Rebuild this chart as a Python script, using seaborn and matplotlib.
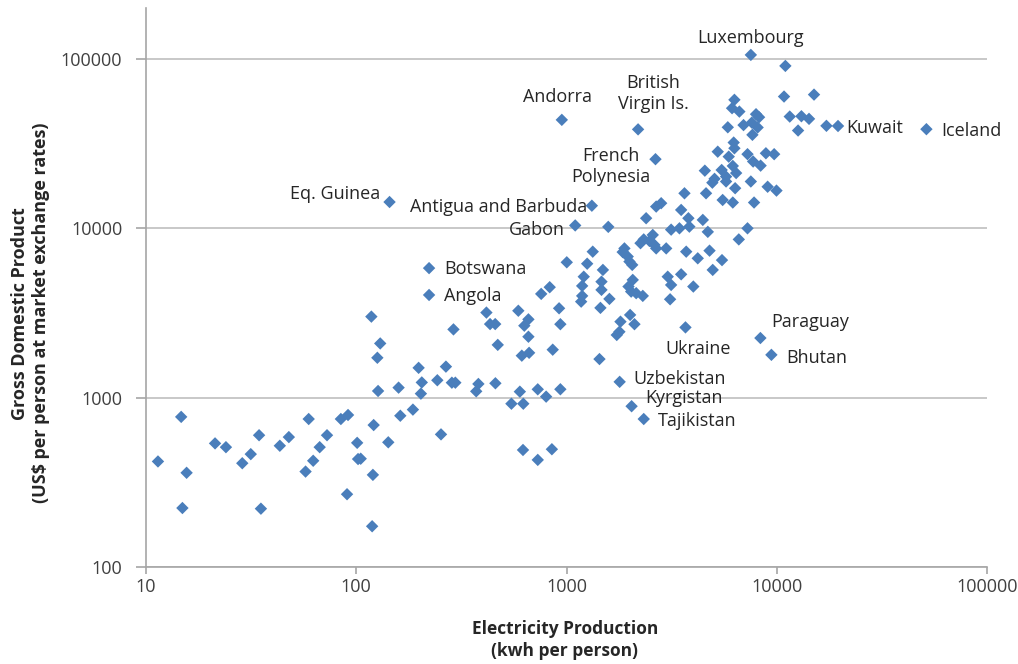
import pandas as pd
import matplotlib
matplotlib.use('Agg')
import matplotlib.pyplot as plt
import seaborn as sns
from matplotlib.ticker import FixedLocator, FuncFormatter, NullLocator

# Electricity production (kwh per person) and GDP (US$ per person), unlabelled countries
elec = [11.4, 14.7, 14.9, 15.6, 21.3, 24, 28.7, 31.5, 34.5, 35.2, 43.3, 47.8, 57.4, 59.4,
        62.4, 67, 72.6, 84.5, 91.4, 90.4, 101, 102, 118, 130, 126, 290, 416, 433, 458, 471,
        590, 659, 630, 659, 613, 664, 860, 198, 267, 205, 203, 243, 285, 296, 127, 159, 186,
        162, 121, 142, 105, 120, 253, 372, 381, 459, 600, 547, 623, 730, 800, 935, 621, 730,
        852, 119, 1003, 832, 758, 922, 935, 1580, 1333, 1254, 1490, 1208, 1187, 1467, 1467,
        1187, 1174, 1600, 1450, 1435, 1886, 1850, 1955, 1993, 2054, 2066, 1972, 2030, 2145,
        2306, 1806, 2007, 2105, 1785, 1734, 2249, 2330, 2480, 2572, 2620, 2670, 2980, 2392,
        2670, 2820, 3145, 3445, 3840, 3510, 3800, 4450, 4700, 3640, 4610, 5530, 6180, 4940,
        5740, 3710, 4210, 4790, 5490, 4960, 3510, 3030, 3145, 4010, 3110, 10990, 10830, 15040,
        6290, 6130, 6640, 7970, 8240, 7610, 8110, 7660, 5850, 6950, 11530, 13100, 14240,
        12630, 17230, 6240, 6290, 5240, 5910, 7260, 7720, 8380, 8880, 9720, 6180, 4550, 5470,
        5740, 5060, 6410, 7530, 6340, 9050, 9970, 7800, 7260, 6600]
gdp = [420, 770, 223, 360, 537, 510, 410, 464, 600, 221, 520, 585, 366, 748,
       424, 510, 600, 748, 790, 269, 541, 434, 3010, 2090, 1720, 2530, 3180, 2720, 2720, 2050,
       3260, 2900, 2660, 2290, 1770, 1840, 1920, 1500, 1525, 1230, 1056, 1267, 1226, 1226, 1095, 1146, 850,
       782, 689, 545, 436, 350, 607, 1090, 1205, 1216, 1085, 921, 921, 1120, 1014, 1121, 491, 429,
       496, 174, 6300, 4490, 4100, 3370, 2715, 10200, 7280, 6180, 5680, 5180, 4570, 4840, 4330,
       3990, 3690, 3830, 3390, 1690, 7610, 7240, 6810, 6360, 6080, 4960, 4530, 4230, 4140,
       3990, 2810, 3080, 2715, 2450, 2345, 8170, 8600, 8420, 9140, 7980, 7610, 7610, 11470,
       13440, 14070, 9820, 10000, 10230, 12840, 11470, 11210, 9530, 16100, 16100, 14700, 14200, 18600,
       18900, 7280, 6650, 7380, 6490, 5680, 5350, 5180, 4630, 4530, 3810, 91000, 60000, 61600,
       57400, 51200, 48900, 47200, 45300, 42100, 39400, 35650, 39500, 40700, 45700, 45900, 44300,
       37800, 40300, 32100, 29700, 28350, 26500, 27400, 24800, 23450, 27750, 27400, 23350, 21900, 22100,
       20200, 19600, 21200, 18900, 17250, 17600, 16700, 14200, 10000, 8600]

# Labelled countries
label_names = ['Luxembourg', 'Andorra', 'British\nVirgin Is.', 'French\nPolynesia', 'Eq. Guinea',
               'Antigua and Barbuda', 'Gabon', 'Botswana', 'Angola', 'Kuwait', 'Iceland',
               'Paraguay', 'Bhutan', 'Ukraine', 'Uzbekistan', 'Kyrgistan', 'Tajikistan']
label_elec = [7530, 950, 2190, 2650, 144, 1320, 1100, 222, 222, 19560, 51500,
              8360, 9430, 3680, 1790, 2040, 2330]
label_gdp = [105700, 43700, 38400, 25600, 14300, 13600, 10400, 5820, 4040, 40200, 38500,
             2250, 1790, 2600, 1240, 890, 748]

# label placement: (dx, dy) in pixels, horizontal alignment
label_pos = {
    'Luxembourg': (0, 17, 'center'),
    'Andorra': (-4, 23, 'center'),
    'British\nVirgin Is.': (15, 36, 'center'),
    'French\nPolynesia': (-45, -7, 'center'),
    'Eq. Guinea': (-9, 8, 'right'),
    'Antigua and Barbuda': (-5, -1, 'right'),
    'Gabon': (-10, -5, 'right'),
    'Botswana': (15, -1, 'left'),
    'Angola': (15, -1, 'left'),
    'Kuwait': (8, -2, 'left'),
    'Iceland': (15, -2, 'left'),
    'Paraguay': (11, 16, 'left'),
    'Bhutan': (15, -3, 'left'),
    'Ukraine': (13, -22, 'center'),
    'Uzbekistan': (14, 3, 'left'),
    'Kyrgistan': (14, 8, 'left'),
    'Tajikistan': (14, -2, 'left'),
}

df = pd.DataFrame({'elec': elec + label_elec, 'gdp': gdp + label_gdp})

sns.set_style('white')
plt.rcParams['font.family'] = ['Open Sans', 'DejaVu Sans']

fig = plt.figure(figsize=(10.18, 6.64), dpi=100)
ax = fig.add_axes([146 / 1018, 97 / 664, 841 / 1018, 559 / 664])

sns.scatterplot(data=df, x='elec', y='gdp', marker='D', s=40, color='#4A7EBB',
                edgecolor='none', linewidth=0, legend=False, ax=ax, zorder=3)

ax.set_xscale('log')
ax.set_yscale('log')
ax.set_xlim(10, 100000)
ax.set_ylim(100, 200000)

ax.xaxis.set_major_locator(FixedLocator([10, 100, 1000, 10000, 100000]))
ax.yaxis.set_major_locator(FixedLocator([100, 1000, 10000, 100000]))
ax.xaxis.set_minor_locator(NullLocator())
ax.yaxis.set_minor_locator(NullLocator())
fmt = FuncFormatter(lambda v, p: f'{int(round(v))}')
ax.xaxis.set_major_formatter(fmt)
ax.yaxis.set_major_formatter(fmt)

ax.yaxis.grid(True, color='#BFBFBF', linewidth=1.2)
ax.xaxis.grid(False)
ax.set_axisbelow(True)

for s in ['top', 'right']:
    ax.spines[s].set_visible(False)
for s in ['left', 'bottom']:
    ax.spines[s].set_color('#A6A6A6')
    ax.spines[s].set_linewidth(1.2)

ax.tick_params(axis='x', bottom=True, direction='out', length=5, width=1.2, color='#A6A6A6',
               labelsize=13, labelcolor='#404040', pad=3)
ax.tick_params(axis='y', left=True, direction='out', length=7, width=1.2, color='#A6A6A6',
               labelsize=13, labelcolor='#404040', pad=10)

ax.set_xlabel('Electricity Production\n(kwh per person)', fontsize=12.5, fontweight='bold',
              color='#262626', linespacing=1.3)
ax.xaxis.set_label_coords(0.498, -0.095)
ax.set_ylabel('Gross Domestic Product\n(US$ per person at market exchange rates)', fontsize=13,
              fontweight='bold', color='#262626', linespacing=1.25)
ax.yaxis.set_label_coords(-0.114, 0.454)

for name, x, y in zip(label_names, label_elec, label_gdp):
    dx, dy, ha = label_pos[name]
    ax.annotate(name, (x, y), xytext=(dx, dy), textcoords='offset pixels', ha=ha, va='center',
                multialignment='center', fontsize=13, color='#262626', linespacing=1.2)

fig.savefig('out.png', dpi=100)
